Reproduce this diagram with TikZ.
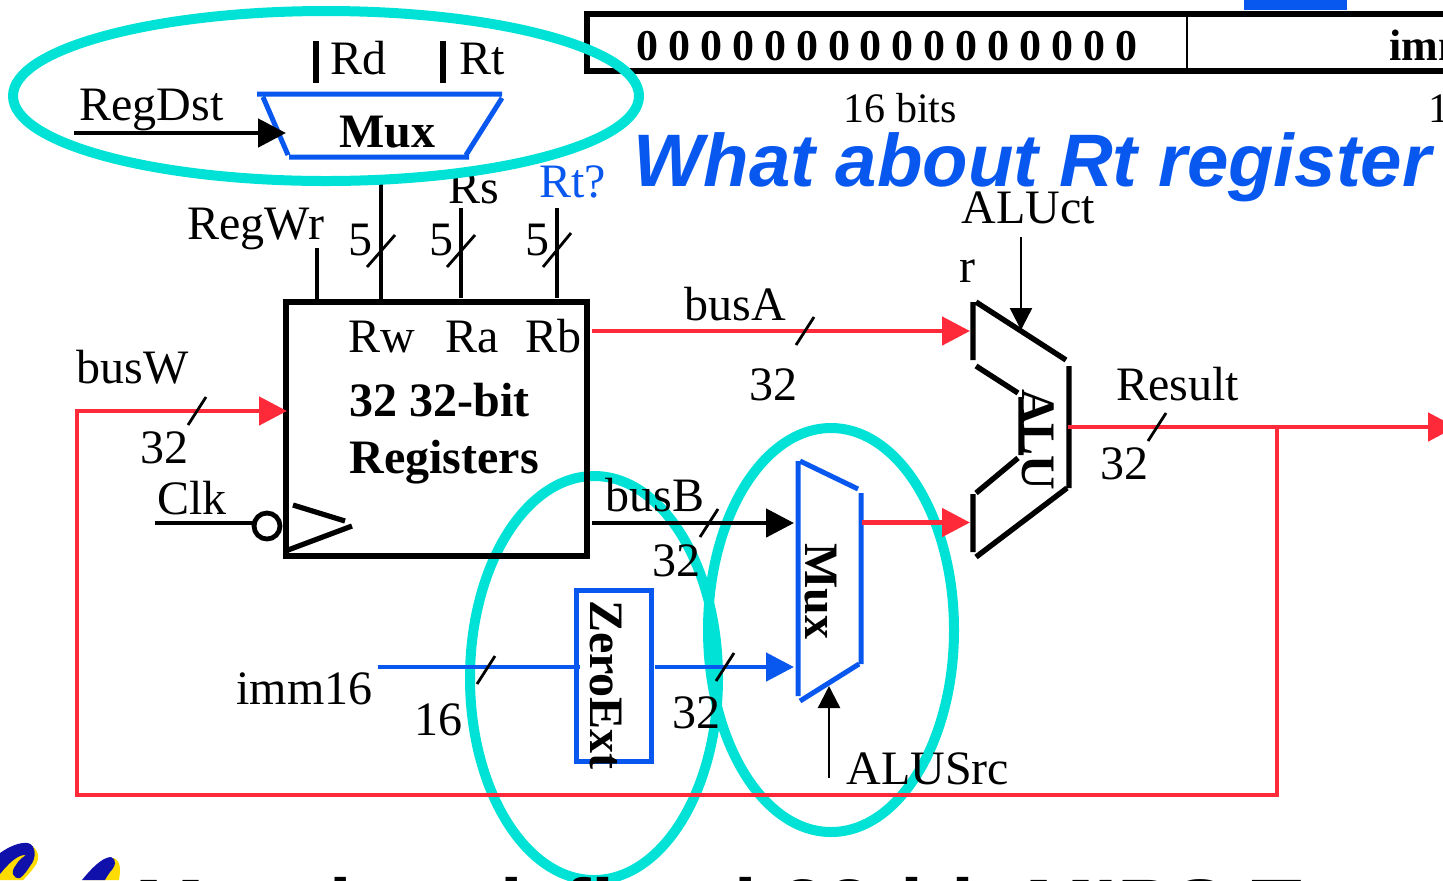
\documentclass[tikz,border=0pt]{standalone}
\usepackage{fontspec}
\setmainfont{Liberation Serif}
\setsansfont{Liberation Sans}
\usetikzlibrary{arrows.meta}
\definecolor{cy}{RGB}{0,226,214}
\definecolor{rd}{RGB}{254,42,58}
\definecolor{bl}{RGB}{8,88,240}
\definecolor{lb}{RGB}{16,16,170}
\definecolor{ly}{RGB}{255,220,0}
\newcommand{\fs}[1]{\fontsize{#1}{#1}\selectfont}
\tikzset{
  x=0.5pt,y=-0.5pt,
  lab/.style={anchor=base west,inner sep=0pt,outer sep=0pt,font=\fs{24},xshift=-0.2pt},
  blab/.style={lab,font=\fs{24}\bfseries},
  vlab/.style={anchor=base west,inner sep=0pt,outer sep=0pt,font=\fs{24}\bfseries,rotate=-90},
  hoop/.style={draw=cy,line width=5pt},
  wire/.style={line width=2.4pt},
  tipwire/.style={wire,-{Triangle[length=14pt,width=14pt]}},
  thintip/.style={line width=1.2pt,-{Triangle[length=11pt,width=11pt]}},
  tick/.style={line width=1.4pt},
  part/.style={line width=2.7pt},
  box/.style={draw,inner sep=0pt,outer sep=0pt,anchor=north west},
}
\begin{document}
\begin{tikzpicture}
\useasboundingbox (0,0) rectangle (1443,880);
\clip (0,0) rectangle (1443,880);
% coordinates
\coordinate (dstL) at (74,133); \coordinate (dstR) at (286,133);
\coordinate (wrT) at (317,248); \coordinate (wrB) at (317,302);
\coordinate (rwT) at (381,175); \coordinate (rwB) at (381,302);
\coordinate (raT) at (461,208); \coordinate (raB) at (461,298);
\coordinate (rbT) at (557,208); \coordinate (rbB) at (557,298);
\coordinate (aL) at (592,331); \coordinate (aR) at (970,331);
\coordinate (bL) at (592,523); \coordinate (bR) at (794,523);
\coordinate (mL) at (862,522.5); \coordinate (mR) at (970,522.5);
\coordinate (resL) at (1068,427); \coordinate (resR) at (1456,427); \coordinate (resJ) at (1277,427);
\coordinate (fb1) at (1277,795); \coordinate (fb2) at (77,795); \coordinate (fb3) at (77,411); \coordinate (fb4) at (287,411);
\coordinate (immL) at (378,667); \coordinate (immR) at (580,667);
\coordinate (zoL) at (655,667); \coordinate (zoR) at (794,667);
\coordinate (srcB) at (829,778); \coordinate (srcT) at (829,686);
\coordinate (ctlT) at (1021,237); \coordinate (ctlB) at (1021,330);
\coordinate (clkL) at (155,523); \coordinate (clkR) at (254,523);
% hoops round ZeroExt and Mux
\coordinate (hoopZ) at (594,678);
\draw[hoop] (hoopZ) ellipse [x radius=124,y radius=202];
\coordinate (hoopM) at (831,630);
\draw[hoop] (hoopM) ellipse [x radius=123,y radius=202];
% instruction strip
\fill[bl] (1244,0) rectangle (1347,10);
\node[box,line width=2.9pt,minimum width=950pt,minimum height=28.5pt] (strip) at (587,14) {};
\draw[line width=1.2pt] (1187,14) -- (1187,70);
\node[blab,font=\fs{22}\bfseries] (zeros) at (637,60) {0\kern4.95pt 0\kern4.95pt 0\kern4.95pt 0\kern4.95pt 0\kern4.95pt 0\kern4.95pt 0\kern4.95pt 0\kern4.95pt 0\kern4.95pt 0\kern4.95pt 0\kern4.95pt 0\kern4.95pt 0\kern4.95pt 0\kern4.95pt 0\kern4.95pt 0};
\node[blab,font=\fs{22}\bfseries] (imm) at (1390,60) {imm};
\node[lab,font=\fs{21}] (b16) at (844,122) {16 bits};
\node[lab,font=\fs{21}] (one) at (1429,122) {1};
\node[anchor=base west,inner sep=0pt,font=\fs{37.2}\sffamily\bfseries\itshape,text=bl] (title) at (633,186) {What about Rt register};
% register inputs
\node[lab] (regwr) at (188,239) {RegWr};
\node[lab] (rs) at (449,203) {Rs};
\node[lab,text=bl] (rtq) at (540,197) {Rt?};
\draw[wire] (wrT) -- (wrB);
\draw[wire] (rwT) -- (rwB);
\draw[wire] (raT) -- (raB);
\draw[wire] (rbT) -- (rbB);
\draw[tick] (367,267) -- (395,235) (447,267) -- (475,235) (543,267) -- (571,233);
\node[lab] (f1) at (349,255) {5};
\node[lab] (f2) at (430,255) {5};
\node[lab] (f3) at (526,255) {5};
% top hoop
\coordinate (hoopTop) at (326,96);
\draw[hoop] (hoopTop) ellipse [x radius=313,y radius=85];
% top mux
\draw[draw=bl,line width=2.5pt] (257,94) -- (502,94) (263,97) -- (288,155) (289,157) -- (469,157) (502,98) -- (466,155);
\node[blab] (tmux) at (340,147) {Mux};
\draw[wire,line width=2.8pt] (316,41) -- (316,83) (443,41) -- (443,83);
\node[lab] (rd) at (331,74) {Rd};
\node[lab] (rt) at (460,74) {Rt};
\node[lab] (regdst) at (80,120) {RegDst};
\draw[tipwire] (dstL) -- (dstR);
% register file
\node[box,line width=2.9pt,minimum width=150.5pt,minimum height=127pt] (regs) at (286,302) {};
\node[lab] (rw) at (349,352) {Rw};
\node[lab] (ra) at (446,352) {Ra};
\node[lab] (rb) at (526,352) {Rb};
\node[blab] (r1) at (350,416) {32 32-bit};
\node[blab] (r2) at (350,473) {Registers};
\draw[line width=2.6pt] (293,505) -- (345,521) (352,526) -- (288,550);
\node[draw,circle,line width=2.4pt,minimum size=13pt,inner sep=0pt] (bub) at (267,526) {};
\draw[wire] (clkL) -- (clkR);
\node[lab] (clk) at (158,514) {Clk};
% busW loop
\draw[tipwire,draw=rd,line join=miter] (resJ) -- (fb1) -- (fb2) -- (fb3) -- (fb4);
\draw[tick] (188,425) -- (206,397);
\node[lab] (busw) at (77,383) {busW};
\node[lab] (n32w) at (141,463) {32};
% busA
\draw[tipwire,draw=rd] (aL) -- (aR);
\draw[tick] (796,345) -- (814,317);
\node[lab] (busa) at (685,320) {busA};
\node[lab] (n32a) at (750,400) {32};
% busB
\draw[tipwire] (bL) -- (bR);
\draw[tick] (700,537) -- (718,509);
\node[lab] (busb) at (606,511) {busB};
\node[lab] (n32b) at (653,576) {32};
% imm
\draw[wire,draw=bl] (immL) -- (immR);
\draw[tick] (477,684) -- (495,656);
\node[lab] (imm16) at (237,704) {imm16};
\node[lab] (n16) at (415,735) {16};
\node[box,draw=bl,line width=2.5pt,minimum width=37.5pt,minimum height=85.5pt] (zext) at (576,590) {};
\node[vlab] (zt) at (590,600) {ZeroExt};
\draw[tipwire,draw=bl] (zoL) -- (zoR);
\draw[tick] (716,681) -- (734,653);
\node[lab] (n32z) at (673,728) {32};
% side mux
\draw[draw=bl,line width=2.5pt] (798,461) -- (798,696) (800,461) -- (858,489) (861,493) -- (861,664) (800,701) -- (859,664);
\node[vlab] (smux) at (805,543) {Mux};
\draw[tipwire,draw=rd] (mL) -- (mR);
\draw[thintip] (srcB) -- (srcT);
\node[lab] (alusrc) at (847,784) {ALUSrc};
% ALU
\draw[part] (973,302) -- (973,360) (976,302) -- (1066,360) (1069,366) -- (1069,488) (1067,488) -- (976,557) (973,494) -- (973,552) (976,366) -- (1018,393) (1021,397) -- (1021,455) (1018,458) -- (976,493);
\node[vlab] (alu) at (1022,389) {ALU};
\draw[thintip] (ctlT) -- (ctlB);
\node[lab] (ctl1) at (962,223) {ALUct};
\node[lab] (ctl2) at (960,282) {r};
% result
\draw[tipwire,draw=rd] (resL) -- (resR);
\draw[tick] (1148,441) -- (1166,413);
\node[lab] (result) at (1117,400) {Result};
\node[lab] (n32r) at (1101,479) {32};
% logo
\fill[ly] (0,880) -- (0,856) .. controls (12,848) and (26,842) .. (30,845) .. controls (38,848) and (41,858) .. (35,866) .. controls (30,873) and (26,877) .. (23,880) -- cycle;
\fill[ly] (84,880) .. controls (92,870) and (104,858) .. (114,858) .. controls (122,862) and (120,872) .. (119,880) -- cycle;
\fill[lb] (0,853) .. controls (10,846) and (20,842) .. (28,843) .. controls (36,845) and (37,858) .. (30,866) .. controls (27,871) and (24,875) .. (20,878) .. controls (13,879) and (10,872) .. (16,865) .. controls (20,858) and (24,857) .. (26,855) .. controls (18,854) and (8,864) .. (0,874) -- cycle;
\fill[lb] (82,880) .. controls (90,870) and (102,857) .. (111,857) .. controls (117,859) and (116,866) .. (110,872) .. controls (108,875) and (106,878) .. (105,880) -- cycle;
% clipped footer line
\node[anchor=base west,inner sep=0pt,font=\fs{41.5}\sffamily\bfseries] (foot) at (135,937) {Mandated\kern9pt\ fixed 32-bit MIPS Type};
\end{tikzpicture}
\end{document}
